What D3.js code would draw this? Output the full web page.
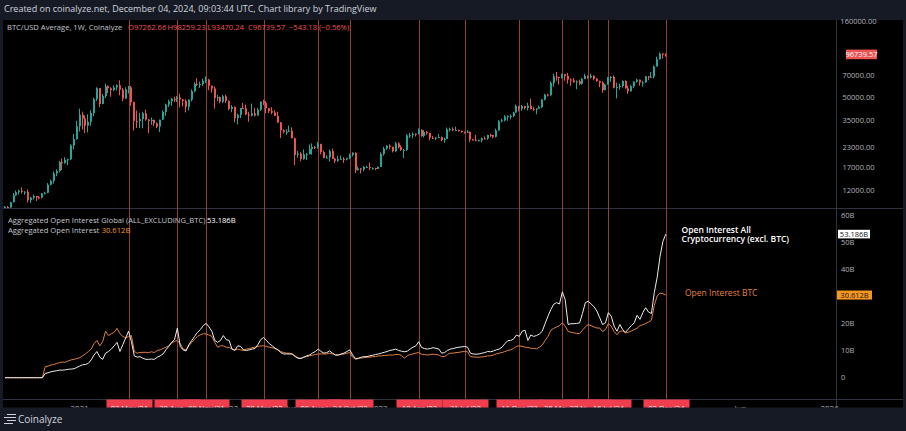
<!DOCTYPE html>
<html lang="en">
<head>
<meta charset="utf-8">
<script src="https://d3js.org/d3.v7.min.js"></script>
<style>
  html, body { margin: 0; padding: 0; background: #161a25; }
  svg { display: block; font-family: "Open Sans", sans-serif; }
</style>
</head>
<body>
<div id="chart"></div>
<script>
// weekly BTC/USD candles, first bar = week of 6 Jul 2020, last = week of 2 Dec 2024
var firstWeek = "2020-07-06";
var btcOpen0 = 9070;
var btcClose = [
  // 2020
  9240, 9170, 9930, 11060, 11590, 11850, 11650, 11680, 10250, 10680, 10930, 10730, 10670,
  11380, 11500, 13030, 13800, 15480, 16060, 18410, 18180, 19150, 19250, 23830, 26270, 32000,
  // 2021
  38200, 36030, 32290, 34300, 39260, 48580, 57540, 45140, 50970, 59300, 57350, 55860, 58200,
  60000, 56200, 49000, 56600, 58230, 46400, 34770, 34650, 35800, 39100, 35500, 34700, 35300,
  33500, 31800, 35400, 39900, 44600, 47000, 48900, 48800, 49900, 48300, 47300, 43200, 48200,
  54900, 61500, 61100, 61300, 64300, 65500, 59700, 57200, 49400, 50100, 46700, 50800, 47300,
  // 2022
  41800, 43100, 36300, 38200, 42400, 42200, 38400, 37700, 39000, 37800, 41300, 46800, 45800,
  42200, 40400, 39500, 37600, 34000, 30100, 29400, 29400, 29900, 26600, 20600, 21000, 19300,
  20800, 20800, 22600, 23300, 23200, 24400, 21500, 19600, 19800, 21800, 19400, 18800, 19300,
  19400, 19200, 19600, 20600, 21300, 16300, 16700, 16450, 17100, 17100, 16800, 16850, 16600,
  // 2023
  17100, 20900, 22700, 23700, 23300, 21800, 24600, 23200, 22200, 22200, 27800, 27900, 28500,
  28300, 30300, 27600, 29300, 28900, 26800, 26700, 26900, 27100, 25900, 26300, 30500, 30600,
  30200, 30200, 29800, 29300, 29000, 29400, 26100, 26000, 25800, 25800, 26600, 26500, 27980,
  27900, 27200, 30000, 34500, 35000, 37100, 37400, 37500, 39500, 43800, 41900, 43700, 42300,
  // 2024
  43900, 41700, 41600, 42000, 43000, 48300, 52100, 51700, 62400, 68900, 68400, 67200, 71300,
  69400, 65700, 64900, 63100, 63900, 61500, 66300, 69400, 67800, 69600, 66600, 64300, 62700,
  55800, 60800, 68200, 68300, 58100, 58700, 59500, 64200, 57300, 54800, 59200, 63600, 65600,
  62800, 62900, 69000, 67900, 68700, 80400, 89800, 98000, 97262.66, 96739.57
];
var btcHigh = [
  9390, 9380, 10000, 11450, 11900, 12090, 12470, 11800, 12090, 10790, 11180, 10950, 10950,
  11480, 11700, 13350, 14080, 15960, 16480, 18800, 19450, 19900, 19420, 24300, 28400, 34800,
  41950, 40100, 37850, 38500, 40950, 49700, 58350, 57600, 52600, 61700, 60100, 58400, 60100,
  61200, 64900, 57600, 58400, 59500, 59600, 46700, 40800, 39500, 40000, 41300, 35700, 36600,
  35400, 34000, 35400, 40900, 45300, 48200, 49400, 50500, 51000, 52900, 48800, 48400, 48500,
  56500, 62900, 67000, 63700, 66500, 69000, 66300, 59300, 59100, 51900, 50500, 51900, 52100,
  47600, 44400, 43500, 38900, 42500, 45800, 44700, 40000, 45400, 42500, 42300, 46900, 48200,
  47200, 41500, 42900, 40900, 40000, 34200, 30600, 30600, 32300, 31500, 26900, 21900, 21500,
  22400, 21200, 24200, 24600, 23600, 25200, 24400, 22000, 20500, 22400, 22700, 19700, 20300,
  20400, 19900, 19700, 21000, 21400, 21400, 17200, 16800, 17400, 17400, 18300, 17000, 16900,
  17300, 21400, 23300, 23900, 24200, 23400, 25200, 25000, 23900, 22600, 28300, 28900, 29100,
  28700, 31000, 30500, 30100, 29800, 28000, 27600, 27200, 28400, 27300, 26800, 31400, 31300,
  31500, 31800, 30400, 29900, 29500, 30200, 29500, 26400, 28100, 26100, 26900, 27400, 28100,
  28600, 28000, 30900, 35200, 35900, 38000, 37900, 38400, 39900, 44700, 43400, 44400, 43800,
  45900, 49000, 43200, 42200, 43900, 48600, 52800, 52900, 63900, 72000, 73800, 68100, 71800,
  71300, 72700, 66900, 67200, 64700, 65500, 67500, 71900, 70000, 71900, 70200, 67200, 64500,
  63800, 61600, 68400, 69400, 70000, 62700, 61800, 64900, 64900, 59800, 60600, 64100, 66500,
  65500, 64400, 69400, 69500, 73600, 81500, 93500, 99600, 98700, 98259.23
];
var btcLow = [
  9040, 9050, 9140, 9920, 10970, 11180, 11360, 11140, 9900, 9830, 10360, 10130, 10380,
  10540, 11200, 11400, 12870, 13250, 14830, 15770, 16330, 18000, 17600, 19000, 22400, 26050,
  29500, 30400, 28800, 29100, 32300, 37400, 47200, 43000, 44900, 49300, 53300, 50400, 55000,
  55500, 51500, 47000, 48800, 53000, 43800, 30000, 31200, 31100, 31000, 34800, 28800, 32700,
  32100, 31100, 29300, 35800, 37600, 43100, 43900, 46400, 46500, 42800, 43400, 39600, 40800,
  46900, 54000, 59500, 57800, 59400, 62300, 55700, 53600, 42000, 47000, 45500, 45600, 45700,
  40900, 39700, 34000, 32900, 36300, 41700, 38000, 34300, 37200, 37200, 37600, 40500, 44300,
  39200, 39200, 38500, 37600, 33700, 26700, 28700, 28000, 29300, 26600, 17600, 19700, 18700,
  19100, 19000, 20800, 20700, 22500, 22700, 20800, 19600, 19600, 18600, 19300, 18200, 18500,
  19200, 18200, 18900, 19300, 20100, 15600, 16200, 15500, 16000, 16800, 16300, 16400, 16300,
  16600, 17100, 20400, 22300, 22500, 21400, 21500, 22800, 21900, 19600, 21900, 26700, 26600,
  27300, 28200, 27200, 26900, 28100, 25800, 26300, 25900, 26800, 25400, 24800, 26300, 29600,
  29700, 30000, 29500, 29000, 28600, 28800, 25200, 25800, 25400, 25400, 24900, 26100, 26000,
  27200, 26600, 26900, 29900, 34000, 34500, 34800, 35600, 36800, 39900, 40200, 40600, 41500,
  40800, 41500, 40600, 38500, 41900, 42300, 47700, 50600, 50900, 59000, 64500, 60800, 66700,
  64500, 61600, 59600, 62700, 56600, 60200, 60800, 66100, 66600, 66900, 65000, 63400, 58400,
  53600, 56100, 60800, 63500, 57300, 49100, 56200, 57800, 57200, 52600, 54600, 57500, 62600,
  59800, 58900, 62400, 65100, 67500, 66800, 80200, 89400, 90700, 93470.24
];
// change shown in the legend for the last bar
var lastChange = -543.18;
var lastChangePct = -0.56;

// aggregated open interest, billions USD, same weeks
var oiAlts = [
  0, 0, 0, 0, 0, 0, 0, 0, 0, 0, 0, 0, 0, 0,
  1.6, 1.8, 2.2, 2.4, 2.6, 2.8, 2.8, 2.9, 3.1, 3.2, 3.3, 3.8, 4.3, 4.8, 4.9, 5.3,
  6.6, 8.4, 9.7, 7.6, 6.8, 9.1, 9.7, 10.6, 11.8, 13.1, 9.7, 12.2, 14.7, 17.2, 13.4, 8.1,
  7.6, 7.8, 7.2, 6.8, 6.8, 6.9, 6.8, 7.6, 8.1, 8.8, 10.3, 11.6, 13.1, 14.1, 18.4, 11.6,
  10.3, 9.9, 12.2, 13.8, 15.3, 16.8, 17.8, 19.3, 20.1, 18.8, 17.2, 13.8, 13.1, 13.8, 15.6, 14.1,
  13.8, 10.6, 10.1, 11.8, 11.6, 10.3, 10.1, 10.3, 10.6, 10.8, 12.2, 14.1, 14.9, 13.8, 12.6, 11.8,
  10.9, 10.3, 9.3, 8.8, 8.8, 8.8, 8.7, 7.8, 7.2, 7.1, 7.6, 8.1, 8.4, 9.1, 9.7, 10.6,
  9.7, 9.1, 9.3, 9.9, 9.1, 8.3, 8.4, 8.8, 9.1, 9.7, 10.3, 8.4, 7.1, 7.2, 7.6, 7.8,
  7.8, 8.1, 8.3, 8.6, 8.8, 9.1, 9.4, 9.7, 10.1, 10.3, 10.6, 10.1, 9.8, 9.6, 9.8, 10.6,
  11.3, 11.8, 13.3, 11.2, 10.8, 10.6, 10.8, 11.1, 10.9, 10.6, 9.1, 9.3, 10.1, 10.6, 10.8, 11.1,
  11.3, 11.4, 11.6, 11.3, 9.1, 8.8, 8.7, 8.8, 9.1, 9.3, 9.7, 9.6, 9.9, 10.3, 10.6, 11.3,
  12.6, 13.7, 13.8, 14.3, 15.8, 15.3, 17.2, 17.6, 13.8, 15.8, 15.3, 15.6, 16.2, 17.2, 20.1, 22.8,
  25.3, 27.2, 27.8, 27.3, 31.8, 28.8, 19.7, 20.0, 20.0, 20.1, 20.3, 23.8, 27.8, 28.3, 27.3, 26.3,
  24.7, 22.2, 19.7, 20.3, 24.1, 22.8, 19.1, 17.2, 19.7, 17.8, 16.8, 18.1, 19.3, 20.3, 23.1, 21.6,
  24.1, 25.9, 24.3, 23.8, 31.6, 37.2, 45.0, 50.5, 53.186
];
var oiBtc = [
  0, 0, 0, 0, 0, 0, 0, 0, 0, 0, 0, 0, 0, 0,
  4.1, 4.3, 4.7, 4.9, 5.3, 5.6, 5.8, 5.7, 6.2, 6.6, 6.8, 7.1, 7.4, 8.1, 8.8, 9.7,
  10.6, 12.6, 13.8, 11.8, 13.4, 17.2, 15.6, 16.3, 16.8, 18.3, 16.3, 15.3, 14.7, 15.3, 15.6, 9.7,
  9.1, 9.3, 9.4, 9.4, 9.3, 9.6, 9.3, 10.1, 10.3, 10.8, 11.3, 11.8, 12.8, 13.4, 13.8, 12.6,
  10.6, 10.3, 11.8, 13.1, 14.3, 15.3, 15.9, 16.3, 16.2, 15.8, 15.3, 13.1, 11.3, 11.8, 11.8, 11.3,
  11.2, 10.6, 10.3, 10.6, 10.3, 10.1, 10.6, 10.8, 11.1, 11.3, 11.6, 11.8, 11.8, 11.6, 11.3, 11.1,
  10.8, 10.3, 9.7, 9.3, 9.1, 9.1, 8.8, 8.1, 7.3, 7.2, 7.6, 7.8, 8.1, 8.3, 8.6, 8.8,
  8.8, 8.8, 8.8, 9.1, 8.8, 8.6, 8.4, 8.6, 8.8, 9.1, 9.3, 7.6, 6.8, 7.1, 7.3, 7.4,
  7.6, 7.6, 7.8, 7.8, 8.1, 8.1, 8.2, 8.3, 8.4, 8.4, 8.6, 8.6, 8.3, 7.2, 8.1, 8.6,
  8.8, 9.1, 9.3, 8.7, 8.6, 8.4, 8.6, 8.7, 8.6, 8.4, 7.8, 7.8, 8.6, 9.1, 9.1, 9.3,
  9.4, 9.6, 9.7, 9.6, 7.8, 7.7, 7.6, 7.6, 7.7, 7.8, 8.1, 8.1, 8.4, 8.8, 9.1, 9.3,
  9.7, 10.1, 10.3, 10.8, 11.6, 11.8, 11.6, 11.3, 11.2, 10.9, 10.8, 10.7, 11.3, 12.1, 13.8, 15.3,
  17.6, 18.3, 18.8, 19.3, 20.3, 19.1, 17.2, 16.8, 16.6, 16.4, 16.3, 17.6, 18.8, 19.7, 19.3, 18.8,
  18.4, 18.4, 17.1, 17.8, 20.1, 19.1, 17.1, 15.9, 17.2, 17.3, 16.6, 16.8, 17.3, 17.8, 18.3, 19.3,
  19.6, 20.1, 20.6, 21.3, 26.8, 30.3, 31.3, 31.1, 30.612
];

// red marker lines (weeks) and their time-axis labels
var markerWeeks = ["2021-05-03", "2021-08-30", "2021-11-08", "2022-03-28", "2022-08-08", "2022-10-24",
  "2023-04-10", "2023-07-31", "2023-12-11", "2024-03-25", "2024-05-27", "2024-07-15", "2024-12-02"];
var markerLabels = ["03 May '21", "30 Aug '21", "08 Nov '21", "28 Mar '22", "08 Aug '22", "24 Oct '22",
  "10 Apr '23", "31 Jul '23", "11 Dec '23", "25 Mar '24", "27 May '24", "15 Jul '24", "02 Dec '24"];

var timeTicks = ["2021-01-04", "2021-06-07", "2022-01-03", "2022-06-06", "2023-01-02", "2023-06-05",
  "2024-01-01", "2024-06-03", "2025-01-06", "2025-06-02", "2026-01-05"];
var timeTickLabels = ["2021", "Jun", "2022", "Jun", "2023", "Jun", "2024", "Jun", "2025", "Jun", "2026"];

var priceTicks = [160000, 70000, 50000, 35000, 23000, 17000, 12000];
var oiTicks = [0, 10, 20, 30, 40, 50, 60];

var W = 906, H = 431;
var upColor = "#26a69a", downColor = "#ef5350";

var svg = d3.select("#chart").append("svg")
    .attr("width", W)
    .attr("height", H);

svg.append("rect").attr("width", W).attr("height", H).attr("fill", "#161a25");
svg.append("rect").attr("x", 3).attr("y", 20).attr("width", 900).attr("height", 390).attr("fill", "#000");

svg.append("text")
    .attr("x", 4).attr("y", 12)
    .attr("font-size", 9).attr("fill", "#d1d4dc")
    .text("Created on coinalyze.net, December 04, 2024, 09:03:44 UTC, Chart library by TradingView");

// clip areas for the two panes
var defs = svg.append("defs");
defs.append("clipPath").attr("id", "clipPrice")
  .append("rect").attr("x", 3).attr("y", 20).attr("width", 833).attr("height", 188);
defs.append("clipPath").attr("id", "clipOI")
  .append("rect").attr("x", 3).attr("y", 209).attr("width", 833).attr("height", 190);

// scales
var parse = d3.utcParse("%Y-%m-%d");
var t0 = parse(firstWeek);
var weeks = btcClose.map(function(d, i) { return d3.utcDay.offset(t0, 7 * i); });

var x = d3.scaleUtc()
    .domain([weeks[0], weeks[weeks.length - 1]])
    .range([5, 665.8]);
var yPrice = d3.scaleLog().domain([12000, 160000]).range([190, 21.7]);
var yOI = d3.scaleLinear().domain([0, 60]).range([377.7, 215.7]);

// separators
svg.append("line").attr("x1", 3).attr("x2", 903).attr("y1", 208.5).attr("y2", 208.5)
    .attr("stroke", "#2f333e");
svg.append("line").attr("x1", 3).attr("x2", 903).attr("y1", 399.5).attr("y2", 399.5)
    .attr("stroke", "#2f333e");
svg.append("line").attr("x1", 836.5).attr("x2", 836.5).attr("y1", 20).attr("y2", 410)
    .attr("stroke", "#2f333e");

// marker lines
svg.append("g").selectAll("line")
  .data(markerWeeks)
  .enter().append("line")
    .attr("x1", function(d) { return Math.round(x(parse(d))) + 0.5; })
    .attr("x2", function(d) { return Math.round(x(parse(d))) + 0.5; })
    .attr("y1", 20).attr("y2", 399)
    .attr("stroke", "#943d3b");

// candles
var candles = btcClose.map(function(c, i) {
  var o = i === 0 ? btcOpen0 : btcClose[i - 1];
  return {
    date: weeks[i], o: o, c: c,
    h: Math.max(btcHigh[i], o, c),
    l: Math.min(btcLow[i], o, c)
  };
});

var gPrice = svg.append("g").attr("clip-path", "url(#clipPrice)");
var candle = gPrice.selectAll("g")
  .data(candles)
  .enter().append("g")
    .attr("fill", function(d) { return d.c >= d.o ? upColor : downColor; });
candle.append("rect")
    .attr("x", function(d) { return Math.round(x(d.date)) - 1; })
    .attr("width", 1)
    .attr("y", function(d) { return yPrice(d.h); })
    .attr("height", function(d) { return Math.max(1, yPrice(d.l) - yPrice(d.h)); });
candle.append("rect")
    .attr("x", function(d) { return Math.round(x(d.date)) - 1; })
    .attr("width", 2)
    .attr("y", function(d) { return yPrice(Math.max(d.o, d.c)); })
    .attr("height", function(d) { return Math.max(1, Math.abs(yPrice(d.o) - yPrice(d.c))); });

// price axis
svg.append("g").selectAll("text")
  .data(priceTicks)
  .enter().append("text")
    .attr("x", 858.5)
    .attr("y", function(d) { return yPrice(d); })
    .attr("dy", "0.35em")
    .attr("text-anchor", "middle")
    .attr("font-size", 7.5)
    .attr("fill", "#b2b5be")
    .text(function(d) { return d3.format(".2f")(d); });

var lastC = candles[candles.length - 1];
svg.append("rect")
    .attr("x", 846).attr("y", yPrice(lastC.c) - 4.8)
    .attr("width", 31).attr("height", 9.6)
    .attr("fill", "#ef5350");
svg.append("text")
    .attr("x", 861.5).attr("y", yPrice(lastC.c)).attr("dy", "0.35em")
    .attr("text-anchor", "middle").attr("font-size", 7.5).attr("fill", "#fff")
    .text(d3.format(".2f")(lastC.c));

// price legend
var legend = svg.append("text").attr("x", 7).attr("y", 27.5).attr("dy", "0.35em").attr("font-size", 7.6);
legend.append("tspan").attr("fill", "#c3c6ce").text("BTC/USD Average, 1W, Coinalyze");
legend.append("tspan").attr("x", 128).attr("fill", "#ef5350").text("O" + d3.format(".2f")(lastC.o));
legend.append("tspan").attr("x", 167.5).attr("fill", "#ef5350").text("H" + d3.format(".2f")(lastC.h));
legend.append("tspan").attr("x", 207.5).attr("fill", "#ef5350").text("L" + d3.format(".2f")(lastC.l));
legend.append("tspan").attr("x", 248).attr("fill", "#ef5350").text("C" + d3.format(".2f")(lastC.c));
legend.append("tspan").attr("x", 289).attr("fill", "#ef5350")
    .text("\u2212" + d3.format(".2f")(-lastChange));
legend.append("tspan").attr("x", 319).attr("fill", "#ef5350")
    .text("(\u2212" + d3.format(".2f")(-lastChangePct) + "%)");

// open interest lines
var gOI = svg.append("g").attr("clip-path", "url(#clipOI)");
var line = function(arr) {
  return d3.line()
    .x(function(d, i) { return x(weeks[i]); })
    .y(function(d) { return yOI(d); })(arr);
};
gOI.append("path").attr("d", line(oiBtc))
    .attr("fill", "none").attr("stroke", "#e0803c").attr("stroke-width", 1);
gOI.append("path").attr("d", line(oiAlts))
    .attr("fill", "none").attr("stroke", "#ececec").attr("stroke-width", 1);

// OI axis
svg.append("g").selectAll("text")
  .data(oiTicks)
  .enter().append("text")
    .attr("x", 841)
    .attr("y", function(d) { return yOI(d); })
    .attr("dy", "0.35em")
    .attr("font-size", 7.5)
    .attr("fill", "#b2b5be")
    .text(function(d) { return d === 0 ? "0" : d + "B"; });

var lastAlts = oiAlts[oiAlts.length - 1], lastBtc = oiBtc[oiBtc.length - 1];
svg.append("rect").attr("x", 838).attr("y", yOI(lastAlts) - 4.3)
    .attr("width", 32).attr("height", 8.6).attr("fill", "#ffffff");
svg.append("text").attr("x", 854).attr("y", yOI(lastAlts)).attr("dy", "0.35em")
    .attr("text-anchor", "middle").attr("font-size", 7.5).attr("fill", "#131722")
    .text(d3.format(".3f")(lastAlts) + "B");
svg.append("rect").attr("x", 837).attr("y", yOI(lastBtc) - 4.5)
    .attr("width", 35).attr("height", 9).attr("fill", "#f5961e");
svg.append("text").attr("x", 854.5).attr("y", yOI(lastBtc)).attr("dy", "0.35em")
    .attr("text-anchor", "middle").attr("font-size", 7.5).attr("fill", "#131722")
    .text(d3.format(".3f")(lastBtc) + "B");

// OI legend
var l1 = svg.append("text").attr("x", 8).attr("y", 220.7).attr("dy", "0.35em").attr("font-size", 7.6);
l1.append("tspan").attr("fill", "#c3c6ce").text("Aggregated Open Interest Global (ALL_EXCLUDING_BTC)");
l1.append("tspan").attr("x", 207).attr("fill", "#ffffff").text(d3.format(".3f")(lastAlts) + "B");
var l2 = svg.append("text").attr("x", 8).attr("y", 230).attr("dy", "0.35em").attr("font-size", 7.6);
l2.append("tspan").attr("fill", "#c3c6ce").text("Aggregated Open Interest");
l2.append("tspan").attr("x", 101.7).attr("fill", "#f5961e").text(d3.format(".3f")(lastBtc) + "B");

// annotations
svg.append("text").attr("x", 681.5).attr("y", 230).attr("dy", "0.35em")
    .attr("font-size", 8.5).attr("font-weight", 600).attr("fill", "#ffffff")
    .text("Open Interest All");
svg.append("text").attr("x", 681.5).attr("y", 239).attr("dy", "0.35em")
    .attr("font-size", 8.5).attr("font-weight", 600).attr("fill", "#ffffff")
    .text("Cryptocurrency (excl. BTC)");
svg.append("text").attr("x", 685).attr("y", 292.7).attr("dy", "0.35em")
    .attr("font-size", 8.5).attr("fill", "#e0803e")
    .text("Open Interest BTC");

// time axis: tick labels, then marker label boxes on top
svg.append("g").selectAll("text")
  .data(timeTicks)
  .enter().append("text")
    .attr("x", function(d) { return x(parse(d)); })
    .attr("y", 410.5)
    .attr("text-anchor", "middle")
    .attr("font-size", 8)
    .attr("fill", "#b2b5be")
    .text(function(d, i) { return timeTickLabels[i]; });

var mk = svg.append("g").selectAll("g")
  .data(markerWeeks)
  .enter().append("g")
    .attr("transform", function(d) { return "translate(" + (Math.round(x(parse(d))) + 0.5) + ",0)"; });
mk.append("rect")
    .attr("x", -23).attr("y", 399.5).attr("width", 46).attr("height", 12)
    .attr("fill", "#f03e4e");
mk.append("text")
    .attr("y", 410.5)
    .attr("text-anchor", "middle")
    .attr("font-size", 7.5)
    .attr("fill", "#ffffff")
    .text(function(d, i) { return markerLabels[i]; });

// footer
svg.append("rect").attr("x", 0).attr("y", 407.5).attr("width", W).attr("height", H - 407.5)
    .attr("fill", "#161a25");
var logo = svg.append("g").attr("stroke", "#d1d4dc").attr("stroke-width", 1);
[[7, 16, 414.5], [4, 16, 417.5], [7, 16, 420.5], [4, 13, 423.5]].forEach(function(s) {
  logo.append("line").attr("x1", s[0]).attr("x2", s[1]).attr("y1", s[2]).attr("y2", s[2]);
});
svg.append("text").attr("x", 18).attr("y", 419.5).attr("dy", "0.35em")
    .attr("font-size", 10).attr("fill", "#d1d4dc")
    .text("Coinalyze");
</script>
</body>
</html>
